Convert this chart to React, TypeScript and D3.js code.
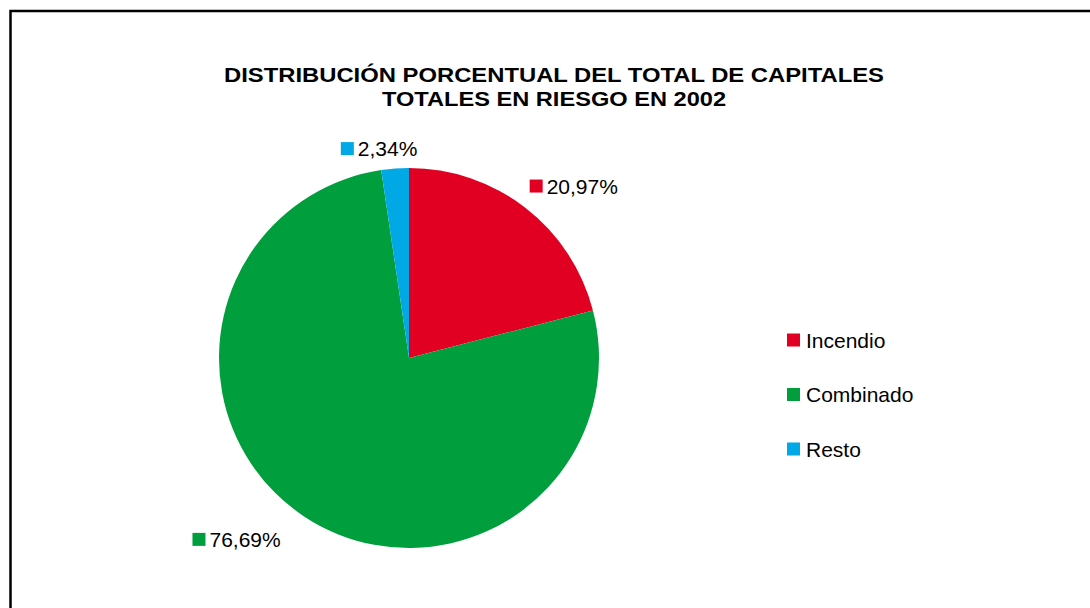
import React, { useEffect, useRef } from 'react';
import * as d3 from 'd3';

// Data
const categories = ['Incendio', 'Combinado', 'Resto'];
const shares = [20.97, 76.69, 2.34];
const labels = ['20,97%', '76,69%', '2,34%'];
const colors = ['#E10022', '#009E3D', '#00A8E6'];
const titleLines = ['DISTRIBUCIÓN PORCENTUAL DEL TOTAL DE CAPITALES', 'TOTALES EN RIESGO EN 2002'];

const App = () => {
  const ref = useRef<SVGSVGElement>(null);

  useEffect(() => {
    const svg = d3.select(ref.current);
    svg.selectAll('*').remove();

    const width = 1090;
    const height = 608;
    const font = 'Liberation Sans, Arial, sans-serif';

    svg.attr('width', width).attr('height', height);

    // Frame (runs off the right and bottom edges)
    svg.append('rect')
      .attr('x', 10.5)
      .attr('y', 11)
      .attr('width', 1200)
      .attr('height', 800)
      .attr('fill', '#fff')
      .attr('stroke', '#000')
      .attr('stroke-width', 2.5);

    // Title
    const titleWidths = [660, 344];
    svg.append('g')
      .selectAll('text')
      .data(titleLines)
      .enter()
      .append('text')
      .attr('x', 554)
      .attr('y', (d, i) => 82 + i * 24)
      .attr('text-anchor', 'middle')
      .attr('font-family', font)
      .attr('font-weight', 'bold')
      .attr('font-size', '21px')
      .attr('textLength', (d, i) => titleWidths[i])
      .attr('lengthAdjust', 'spacingAndGlyphs')
      .attr('fill', '#000')
      .text(d => d);

    // Pie
    const cx = 409;
    const cy = 358;
    const r = 190;

    const pie = d3.pie<number>().sort(null).value(d => d);
    const arcs = pie(shares);
    const arc = d3.arc<d3.PieArcDatum<number>>().innerRadius(0).outerRadius(r);

    const g = svg.append('g').attr('transform', `translate(${cx}, ${cy})`);

    g.selectAll('path')
      .data(arcs)
      .enter()
      .append('path')
      .attr('d', arc)
      .attr('fill', (d, i) => colors[i]);

    // Data labels, placed outside the slices
    const labelArc = d3.arc<d3.PieArcDatum<number>>().innerRadius(r + 30).outerRadius(r + 30);
    const offsets = [
      { dx: 21, dy: 2 },
      { dx: -60, dy: -2 },
      { dx: -17, dy: 10 },
    ];

    const lab = g.selectAll('g.lab')
      .data(arcs)
      .enter()
      .append('g')
      .attr('class', 'lab')
      .attr('transform', (d, i) => {
        const [x, y] = labelArc.centroid(d);
        return `translate(${x + offsets[i].dx}, ${y + offsets[i].dy})`;
      });

    lab.append('rect')
      .attr('x', -35)
      .attr('y', -6.5)
      .attr('width', 13)
      .attr('height', 13)
      .attr('fill', (d, i) => colors[i]);

    lab.append('text')
      .attr('x', -18)
      .attr('y', 7.5)
      .attr('font-family', font)
      .attr('font-size', '21px')
      .attr('fill', '#000')
      .text((d, i) => labels[i]);

    // Legend
    const ly = d3.scalePoint<string>().domain(categories).range([340, 449]);

    const legend = svg.append('g')
      .selectAll('g')
      .data(categories)
      .enter()
      .append('g')
      .attr('transform', d => `translate(787, ${ly(d)})`);

    legend.append('rect')
      .attr('x', 0)
      .attr('y', -6.5)
      .attr('width', 13)
      .attr('height', 13)
      .attr('fill', (d, i) => colors[i]);

    legend.append('text')
      .attr('x', 19)
      .attr('y', 7.5)
      .attr('font-family', font)
      .attr('font-size', '21px')
      .attr('fill', '#000')
      .text(d => d);
  }, []);

  return <svg ref={ref} style={{ position: 'absolute', left: 0, top: 0 }}></svg>;
};

export default App;
